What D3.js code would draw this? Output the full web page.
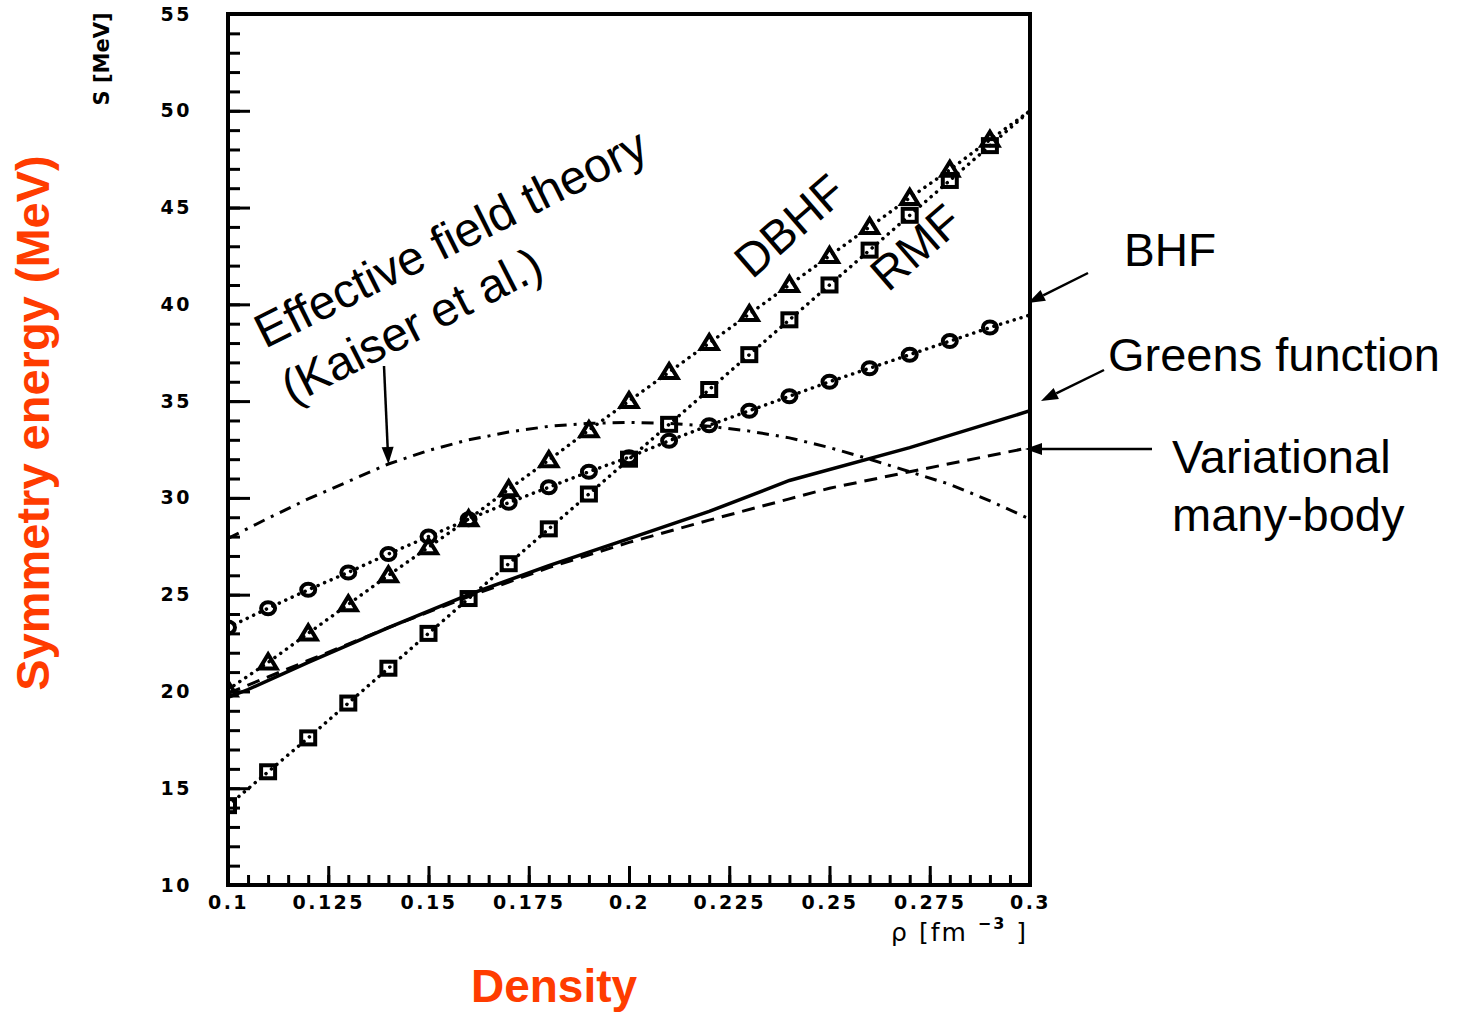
<!DOCTYPE html>
<html>
<head>
<meta charset="utf-8">
<script src="https://cdn.jsdelivr.net/npm/d3@7"></script>
<style>
  html, body { margin: 0; padding: 0; background: #fff; }
  svg { display: block; }
</style>
</head>
<body>
<svg id="chart" width="1466" height="1013"></svg>
<script>
// Symmetry energy of nuclear matter vs density, several many-body approaches.

// Densities (fm^-3) for the marker series (markers drawn at 0.10 .. 0.29)
const rhoGrid = [0.10, 0.11, 0.12, 0.13, 0.14, 0.15, 0.16, 0.17, 0.18, 0.19, 0.20,
                 0.21, 0.22, 0.23, 0.24, 0.25, 0.26, 0.27, 0.28, 0.29, 0.30];
// DBHF (triangles)
const dbhf = [20.1, 21.5, 23.0, 24.5, 26.0, 27.45, 28.9, 30.45, 31.95, 33.5, 35.0,
              36.5, 38.0, 39.5, 41.0, 42.5, 44.0, 45.5, 46.95, 48.5, 50.0];
// RMF (squares)
const rmf = [14.1, 15.85, 17.6, 19.4, 21.2, 23.0, 24.8, 26.6, 28.4, 30.2, 32.0,
             33.8, 35.6, 37.4, 39.2, 41.0, 42.8, 44.6, 46.4, 48.2, 50.0];
// BHF (circles)
const bhf = [23.3, 24.3, 25.25, 26.15, 27.1, 28.0, 28.9, 29.75, 30.55, 31.35, 32.1,
             32.95, 33.75, 34.5, 35.25, 36.0, 36.7, 37.4, 38.1, 38.8, 39.45];
const markerCount = 20;

// Greens function (solid)
const greensRho = [0.10, 0.105, 0.12, 0.14, 0.16, 0.18, 0.20, 0.22, 0.24, 0.27, 0.30];
const greens    = [19.7, 20.1, 21.5, 23.3, 25.0, 26.5, 27.9, 29.3, 30.9, 32.6, 34.5];

// Variational many-body (dashed)
const variRho = [0.10, 0.12, 0.14, 0.16, 0.18, 0.20, 0.22, 0.24, 0.25, 0.27, 0.30];
const vari    = [19.9, 21.6, 23.3, 24.9, 26.4, 27.7, 28.85, 29.95, 30.5, 31.35, 32.6];

// Effective field theory, Kaiser et al. (dash-dot)
const eftRho = rhoGrid;
const eft = [27.9, 28.95, 29.95, 30.85, 31.75, 32.45, 33.0, 33.4, 33.7, 33.85, 33.9,
             33.85, 33.7, 33.45, 33.1, 32.6, 32.0, 31.35, 30.7, 29.85, 28.9];

// Axis ticks
const xMajorTicks = [0.1, 0.125, 0.15, 0.175, 0.2, 0.225, 0.25, 0.275, 0.3];
const xTickLabels = ["0.1", "0.125", "0.15", "0.175", "0.2", "0.225", "0.25", "0.275", "0.3"];
const yMajorTicks = [10, 15, 20, 25, 30, 35, 40, 45, 50, 55];
const yTickLabels = ["10", "15", "20", "25", "30", "35", "40", "45", "50", "55"];

const svg = d3.select("#chart");
const x = d3.scaleLinear().domain([0.1, 0.3]).range([228, 1030]);
const y = d3.scaleLinear().domain([10, 55]).range([885, 14]);

const ORANGE = "#ff3c00";
const FONT = "'Liberation Sans', Arial, sans-serif";
const TICKFONT = "'DejaVu Sans', sans-serif";

// clip for data
svg.append("defs").append("clipPath").attr("id", "plot")
  .append("rect").attr("x", x(0.1)).attr("y", y(55))
  .attr("width", x(0.3) - x(0.1)).attr("height", y(10) - y(55));

// --- axes (ticks pointing inward) ---
const xMinor = d3.range(0, 41).map(i => 0.1 + i * 0.005);
const yMinor = d3.range(10, 56);

function styleAxis(g) {
  g.select(".domain").remove();
  g.selectAll(".tick line").attr("stroke", "#000").attr("stroke-width", 3);
  g.selectAll(".tick text").attr("fill", "#000")
    .style("font-family", TICKFONT).style("font-weight", "bold")
    .style("font-size", "19px").style("letter-spacing", "2.5px");
}

svg.append("g").attr("transform", `translate(0,${y(10)})`)
  .call(d3.axisBottom(x).tickValues(xMinor).tickSizeInner(-10).tickSizeOuter(0).tickFormat(""))
  .call(styleAxis);
svg.append("g").attr("transform", `translate(0,${y(10)})`)
  .call(d3.axisBottom(x).tickValues(xMajorTicks).tickSizeInner(-19).tickSizeOuter(0)
    .tickPadding(11).tickFormat((d, i) => xTickLabels[i]))
  .call(styleAxis);

svg.append("g").attr("transform", `translate(${x(0.1)},0)`)
  .call(d3.axisLeft(y).tickValues(yMinor).tickSizeInner(-12).tickSizeOuter(0).tickFormat(""))
  .call(styleAxis);
svg.append("g").attr("transform", `translate(${x(0.1)},0)`)
  .call(d3.axisLeft(y).tickValues(yMajorTicks).tickSizeInner(-22).tickSizeOuter(0)
    .tickPadding(36).tickFormat((d, i) => yTickLabels[i]))
  .call(styleAxis);

// --- curves ---
const plot = svg.append("g").attr("clip-path", "url(#plot)");
const line = d3.line().x(d => x(d[0])).y(d => y(d[1]));
const zip = (a, b) => a.map((v, i) => [v, b[i]]);

function curve(rhos, vals, opts) {
  plot.append("path").datum(zip(rhos, vals))
    .attr("d", line).attr("fill", "none").attr("stroke", "#000")
    .attr("stroke-width", opts.w).attr("stroke-dasharray", opts.dash || null)
    .attr("stroke-linecap", opts.cap || "butt");
}
curve(eftRho, eft, { w: 3, dash: "12 7 3 7" });
curve(variRho, vari, { w: 3, dash: "13 8" });
curve(greensRho, greens, { w: 3.5 });
curve(rhoGrid, dbhf, { w: 3.5, dash: "0.1 7", cap: "round" });
curve(rhoGrid, rmf, { w: 3.5, dash: "0.1 7", cap: "round" });
curve(rhoGrid, bhf, { w: 3.5, dash: "0.1 7", cap: "round" });

// --- markers ---
function markers(vals, shape) {
  const pts = zip(rhoGrid, vals).slice(0, markerCount);
  const g = plot.append("g").attr("fill", "none").attr("stroke", "#000").attr("stroke-width", 4);
  pts.forEach(([r, v]) => {
    const cx = x(r), cy = y(v);
    if (shape === "tri") {
      g.append("path").attr("d", `M${cx},${cy - 8} L${cx + 8.5},${cy + 6} L${cx - 8.5},${cy + 6} Z`)
        .attr("stroke-linejoin", "miter");
    } else if (shape === "sq") {
      g.append("rect").attr("x", cx - 7).attr("y", cy - 6.5).attr("width", 14).attr("height", 13);
    } else {
      g.append("ellipse").attr("cx", cx).attr("cy", cy).attr("rx", 7).attr("ry", 6);
    }
  });
}
markers(dbhf, "tri");
markers(rmf, "sq");
markers(bhf, "circ");

// --- frame ---
svg.append("rect").attr("x", x(0.1)).attr("y", y(55))
  .attr("width", x(0.3) - x(0.1)).attr("height", y(10) - y(55))
  .attr("fill", "none").attr("stroke", "#000").attr("stroke-width", 4);

// --- axis titles ---
svg.append("text").attr("transform", "translate(109,59) rotate(-90)")
  .attr("text-anchor", "middle").style("font-family", TICKFONT).style("font-weight", "bold")
  .style("font-size", "21px").text("S [MeV]");

const rhoLabel = svg.append("text").attr("x", 1028).attr("y", 941).attr("text-anchor", "end")
  .style("font-family", TICKFONT).style("font-size", "25px").style("letter-spacing", "2px");
rhoLabel.append("tspan").text("ρ [fm ");
rhoLabel.append("tspan").attr("dy", -12).style("font-size", "16px").style("font-weight", "bold").text("−3");
rhoLabel.append("tspan").attr("dy", 12).text(" ]");

svg.append("text").attr("transform", "translate(49,423) rotate(-90)")
  .attr("text-anchor", "middle").attr("fill", ORANGE)
  .style("font-family", FONT).style("font-weight", "bold").style("font-size", "47px")
  .text("Symmetry energy (MeV)");

svg.append("text").attr("x", 554).attr("y", 1002).attr("text-anchor", "middle").attr("fill", ORANGE)
  .style("font-family", FONT).style("font-weight", "bold").style("font-size", "46px")
  .text("Density");

// --- annotations ---
function label(txt, px, py, angle, size) {
  svg.append("text").attr("transform", `translate(${px},${py}) rotate(${angle})`)
    .style("font-family", FONT).style("font-size", size + "px").attr("fill", "#000").text(txt);
}
label("Effective field theory", 265, 349, -26.5, 48);
label("(Kaiser et al.)", 292, 405, -27, 48);
label("DBHF", 752, 280, -41, 47);
label("RMF", 888, 293, -41, 47);
label("BHF", 1124, 266, 0, 46);
label("Greens function", 1108, 371, 0, 47);
label("Variational", 1172, 473, 0, 47);
label("many-body", 1172, 531, 0, 47);

// arrows
function arrow(x1, y1, x2, y2) {
  const a = Math.atan2(y2 - y1, x2 - x1), L = 17, W = 6;
  const bx = x2 - L * Math.cos(a), by = y2 - L * Math.sin(a);
  svg.append("line").attr("x1", x1).attr("y1", y1).attr("x2", bx).attr("y2", by)
    .attr("stroke", "#000").attr("stroke-width", 2.5);
  svg.append("path")
    .attr("d", `M${x2},${y2} L${bx - W * Math.sin(a)},${by + W * Math.cos(a)} L${bx + W * Math.sin(a)},${by - W * Math.cos(a)} Z`)
    .attr("fill", "#000");
}
arrow(384, 366, x(0.14), y(eft[4]));
arrow(1088, 273, 1028, 303);
arrow(1104, 370, 1041, 401);
arrow(1152, 449, 1025, 449);
</script>
</body>
</html>
